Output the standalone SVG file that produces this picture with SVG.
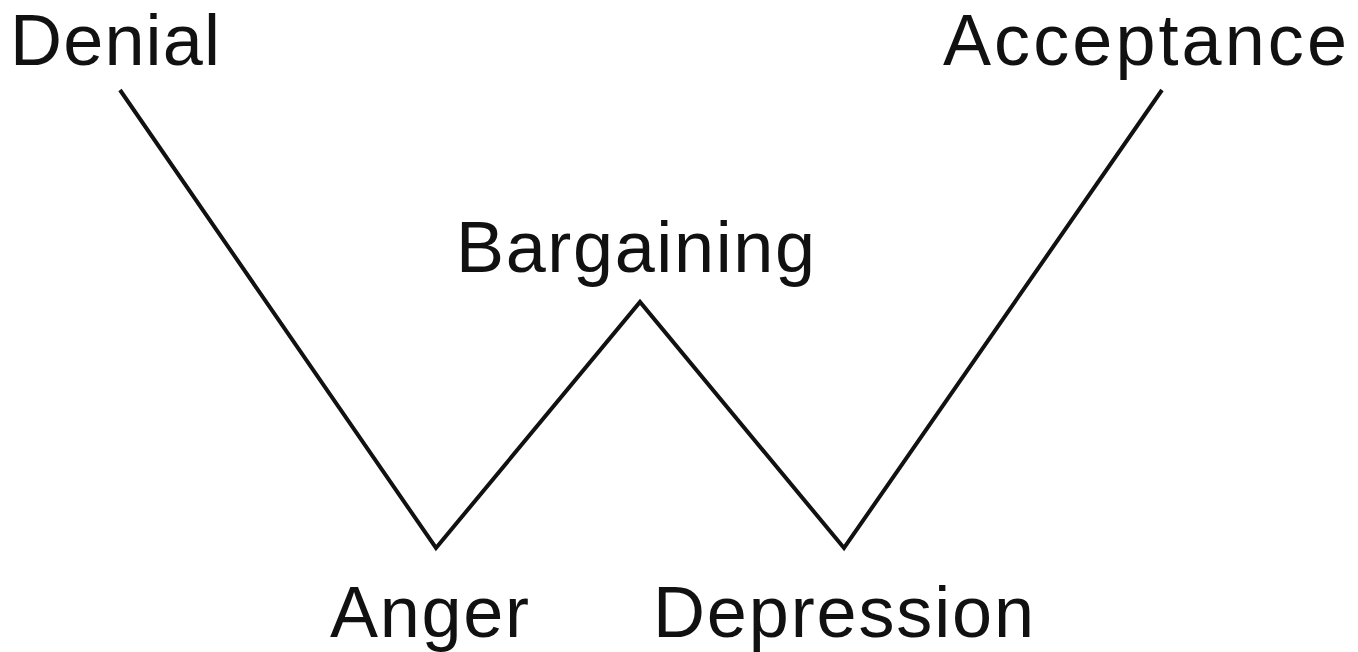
<svg xmlns="http://www.w3.org/2000/svg" width="1358" height="652" viewBox="0 0 1358 652">
<style>
text{font-family:"Liberation Sans",Arial,Helvetica,sans-serif;font-size:72px;fill:#111}
.ln{fill:none;stroke:#111;stroke-width:4;stroke-linejoin:miter;stroke-linecap:butt}
</style>
<rect width="1358" height="652" fill="#fff"/>
<g id="connectors">
<polyline class="ln" points="120,90 436,548 640,302 844,548 1162,90"/>
</g>
<g id="denial"><text x="10" y="65" textLength="210" lengthAdjust="spacing">Denial</text></g>
<g id="acceptance"><text x="943" y="65" textLength="404" lengthAdjust="spacing">Acceptance</text></g>
<g id="bargaining"><text x="456" y="272" textLength="359" lengthAdjust="spacing">Bargaining</text></g>
<g id="anger"><text x="330" y="637" textLength="199" lengthAdjust="spacing">Anger</text></g>
<g id="depression"><text x="653" y="637" textLength="381" lengthAdjust="spacing">Depression</text></g>
</svg>
